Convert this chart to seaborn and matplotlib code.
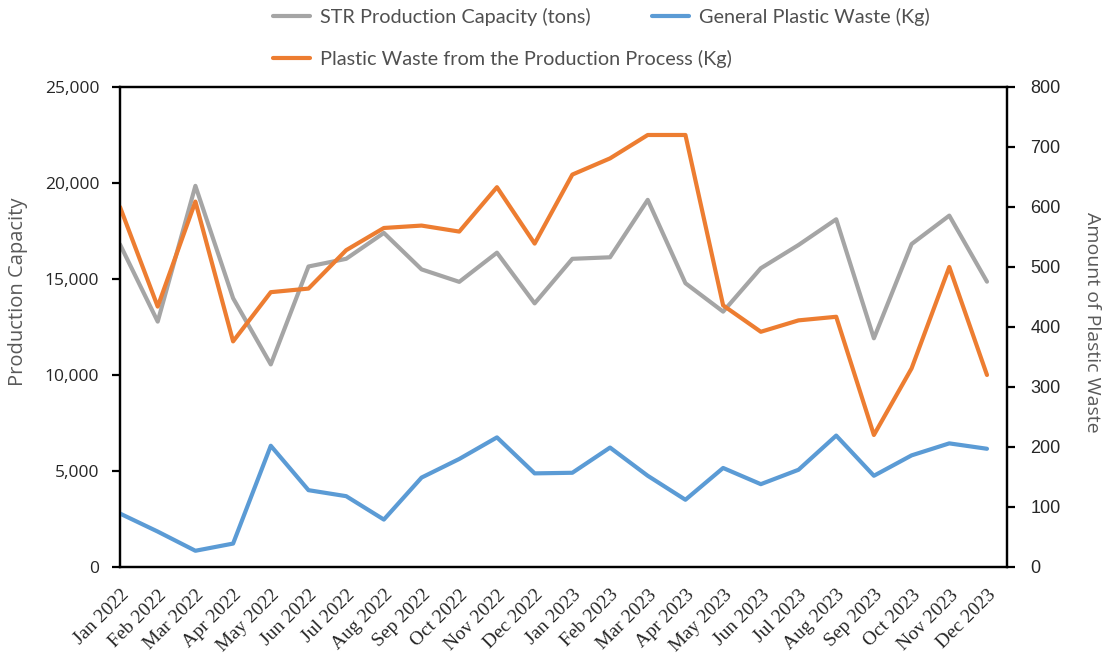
import matplotlib
matplotlib.use("Agg")
import matplotlib.pyplot as plt
import seaborn as sns
import pandas as pd
from matplotlib.lines import Line2D
from matplotlib.ticker import FuncFormatter, MultipleLocator

months = ["Jan 2022", "Feb 2022", "Mar 2022", "Apr 2022", "May 2022", "Jun 2022",
          "Jul 2022", "Aug 2022", "Sep 2022", "Oct 2022", "Nov 2022", "Dec 2022",
          "Jan 2023", "Feb 2023", "Mar 2023", "Apr 2023", "May 2023", "Jun 2023",
          "Jul 2023", "Aug 2023", "Sep 2023", "Oct 2023", "Nov 2023", "Dec 2023"]

production_capacity = [16800, 12780, 19850, 14000, 10550, 15650, 16050, 17400,
                       15500, 14850, 16370, 13730, 16050, 16130, 19120, 14780,
                       13300, 15560, 16770, 18110, 11910, 16820, 18300, 14860]

general_waste = [89, 59, 27, 39, 202, 128, 118, 79, 149, 180, 216, 156,
                 157, 199, 152, 112, 165, 138, 162, 219, 152, 186, 206, 197]

process_waste = [600, 434, 609, 376, 458, 464, 528, 565, 569, 559, 633, 539,
                 654, 681, 720, 720, 436, 392, 411, 417, 220, 331, 500, 320]

label_capacity = "STR Production Capacity (tons)"
label_general = "General Plastic Waste (Kg)"
label_process = "Plastic Waste from the Production Process (Kg)"

GREY = "#A5A5A5"
ORANGE = "#ED7D31"
BLUE = "#5B9BD5"
LW = 3.0

df = pd.DataFrame({
    "idx": range(len(months)),
    "capacity": production_capacity,
    "general": general_waste,
    "process": process_waste,
})

sns.set_style("white")
fig = plt.figure(figsize=(11.04, 6.55), dpi=100)
ax = fig.add_axes([0.1087, 0.1344, 0.8034, 0.7328])
ax2 = ax.twinx()

sns.lineplot(data=df, x="idx", y="capacity", ax=ax, color=GREY, linewidth=LW)
sns.lineplot(data=df, x="idx", y="general", ax=ax2, color=BLUE, linewidth=LW)
sns.lineplot(data=df, x="idx", y="process", ax=ax2, color=ORANGE, linewidth=LW)

ax.set_xlim(0, 23.53)
ax.set_ylim(0, 25000)
ax2.set_ylim(0, 800)
ax.yaxis.set_major_locator(MultipleLocator(5000))
ax2.yaxis.set_major_locator(MultipleLocator(100))
ax.yaxis.set_major_formatter(FuncFormatter(lambda v, p: f"{int(v):,}"))

ax.set_xticks(range(len(months)))
ax.set_xticklabels(months, rotation=45, ha="right", rotation_mode="anchor",
                   fontfamily="Liberation Serif", fontsize=14, color="#262626")

for a in (ax, ax2):
    for s in a.spines.values():
        s.set_color("black")
        s.set_linewidth(1.6)
    a.grid(False)

ax.tick_params(axis="x", direction="out", length=6, width=1.6, color="black", pad=8)
ax.tick_params(axis="y", direction="out", length=6, width=1.6, color="black",
               labelsize=12.5, labelcolor="#262626", pad=9)
ax2.tick_params(axis="y", direction="out", length=6, width=1.6, color="black",
                labelsize=13, labelcolor="#262626", pad=11)
for t in ax.get_yticklabels():
    t.set_fontfamily("Open Sans")
for t in ax2.get_yticklabels():
    t.set_fontfamily("Liberation Sans")

ax.set_xlabel("")
ax.set_ylabel("Production Capacity", fontfamily="Open Sans", fontsize=14.5,
              color="#595959")
ax.yaxis.set_label_coords(-0.104, 0.573)
ax2.set_ylabel("Amount of Plastic Waste", fontfamily="Open Sans", fontsize=14,
               color="#595959", rotation=270)
ax2.yaxis.label.set_verticalalignment("bottom")
ax2.yaxis.set_label_coords(1.0857, 0.51)

h_grey = Line2D([], [], color=GREY, linewidth=LW)
h_blue = Line2D([], [], color=BLUE, linewidth=LW)
h_orange = Line2D([], [], color=ORANGE, linewidth=LW)

leg_kw = dict(frameon=False, loc="upper left", handlelength=1.86, handletextpad=0.5,
              borderpad=0, borderaxespad=0,
              prop={"family": "Lato", "size": 14.3}, labelcolor="#505050")
leg1 = fig.legend([h_grey, h_blue], [label_capacity, label_general], ncol=2,
                  columnspacing=3.1, bbox_to_anchor=(273 / 1104, 1 - 8 / 655), **leg_kw)
leg2 = fig.legend([h_orange], [label_process],
                  bbox_to_anchor=(273 / 1104, 1 - 50 / 655), **leg_kw)

fig.savefig("out.png", dpi=100)
